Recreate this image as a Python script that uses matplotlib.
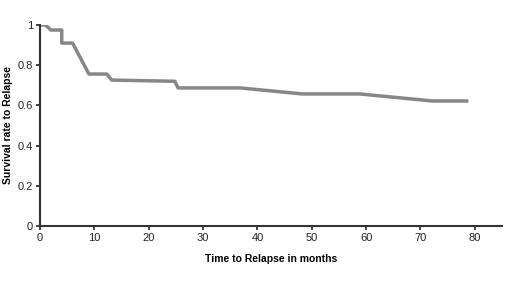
import matplotlib.pyplot as plt

# polyline points (months, survival rate)
months = [0, 1, 2, 4, 4, 6, 9, 12.3, 13.2, 24.8, 25.4, 36.8, 48.3, 58.8, 72.2, 78.5]
survival = [1.0, 1.0, 0.975, 0.975, 0.91, 0.91, 0.756, 0.756, 0.726, 0.72, 0.687, 0.687, 0.657, 0.657, 0.622, 0.622]

x_ticks = [0, 10, 20, 30, 40, 50, 60, 70, 80]
y_ticks = [0, 0.2, 0.4, 0.6, 0.8, 1]
y_tick_labels = ["0", "0.2", "0.4", "0.6", "0.8", "1"]

plt.rcParams['font.family'] = ['Liberation Sans', 'DejaVu Sans']

fig = plt.figure(figsize=(5.2, 2.81), dpi=100)
ax = fig.add_axes([40 / 520, 1 - 226 / 281, 462 / 520, 201 / 281])

ax.plot(months, survival, color='#878787', linewidth=2.5, solid_joinstyle='round')

ax.set_xlim(0, 85)
ax.set_ylim(0, 1)
ax.set_xticks(x_ticks)
ax.set_yticks(y_ticks)
ax.set_yticklabels(y_tick_labels)
ax.tick_params(axis='both', direction='out', length=3, width=1.2, labelsize=8, colors='#222222', pad=2)

for side in ['top', 'right']:
    ax.spines[side].set_visible(False)
for side in ['left', 'bottom']:
    ax.spines[side].set_linewidth(1.5)
    ax.spines[side].set_color('#333333')

ax.set_xlabel('Time to Relapse in months', fontsize=7.5, fontweight='bold', labelpad=8)
ax.set_ylabel('Survival rate to Relapse', fontsize=7.5, fontweight='bold')
ax.yaxis.set_label_coords(-27 / 462, 0.5)

fig.savefig('out.png', dpi=100)
